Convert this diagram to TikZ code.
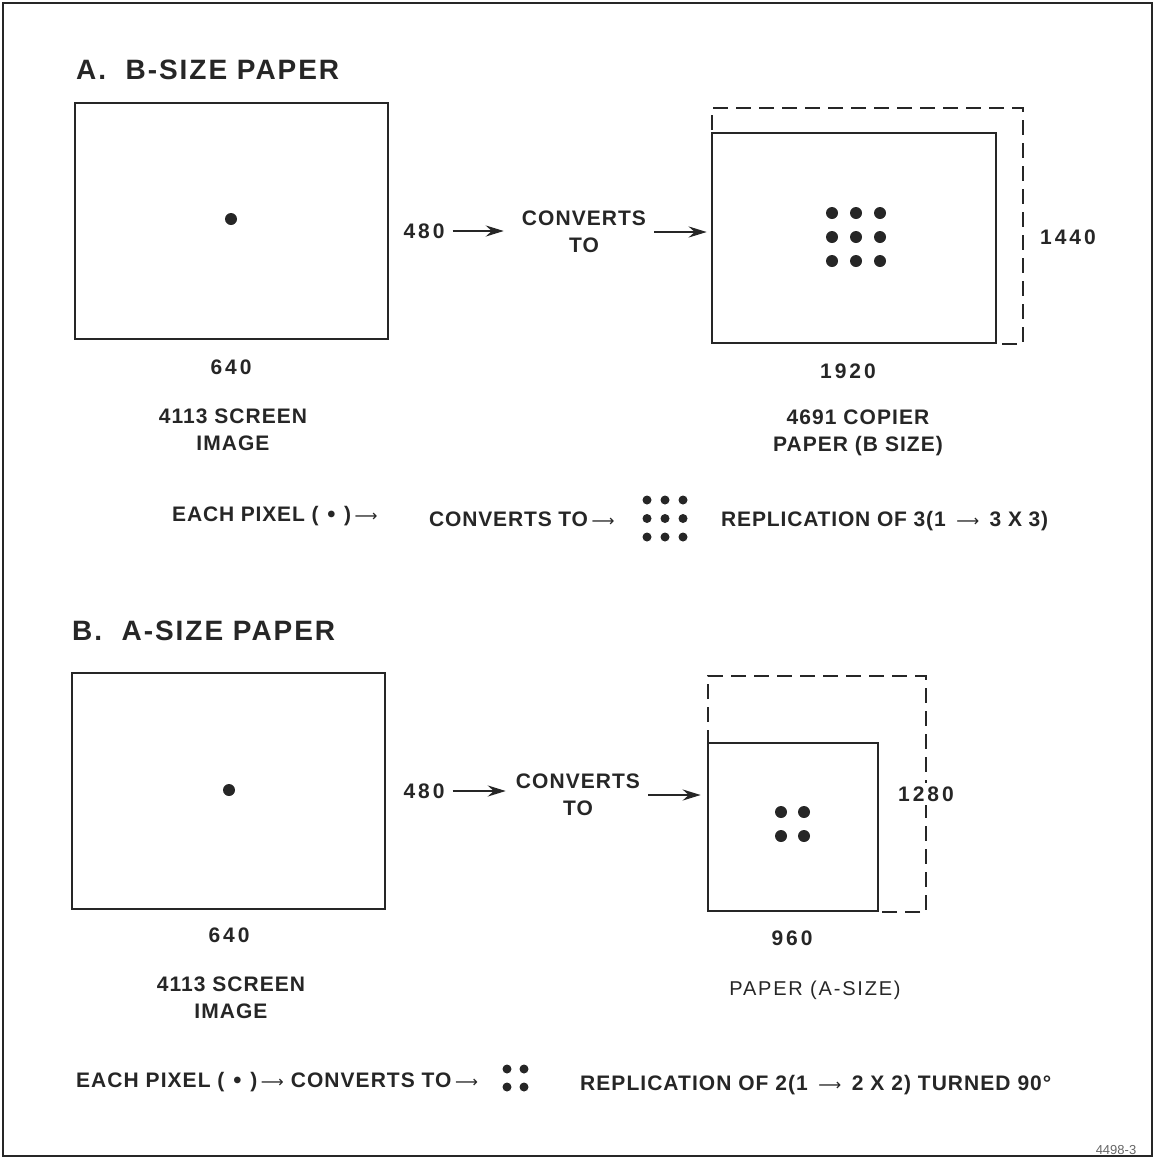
\documentclass[tikz,border=0pt]{standalone}
\usepackage{fontspec}
\setmainfont{Liberation Sans}
\newfontfamily\ttlfont[LetterSpace=7]{Liberation Sans}
\newfontfamily\labfont[LetterSpace=5]{Liberation Sans}
\newfontfamily\numfont[LetterSpace=14]{Liberation Sans}
\newfontfamily\rowfont[LetterSpace=4]{Liberation Sans}
\newfontfamily\rowbfont[LetterSpace=5]{Liberation Sans}
\newfontfamily\thinfont[LetterSpace=9]{Liberation Sans}
\newfontfamily\dvfont{DejaVu Sans}
\newcommand\rarr{{\dvfont\mdseries\fontsize{16}{22}\selectfont ⟶}}
\newcommand\pix{{\dvfont\fontsize{19}{22}\selectfont •}}
\usetikzlibrary{arrows.meta}
\tikzset{
  frame/.style={draw, line width=2pt},
  boxline/.style={draw, line width=2.6pt, inner sep=0pt},
  dline/.style={line width=2pt, dash pattern=on 15pt off 8pt},
  ttl/.style={font=\ttlfont\fontsize{28}{32}\selectfont\bfseries, inner sep=0pt},
  lab/.style={font=\labfont\fontsize{21}{27}\selectfont\bfseries, inner sep=0pt, align=center},
  num/.style={font=\numfont\fontsize{21}{27}\selectfont\bfseries, inner sep=0pt, align=center},
  row/.style={font=\rowfont\fontsize{21}{24}\selectfont\bfseries, inner sep=0pt, anchor=west},
  rowb/.style={font=\rowbfont\fontsize{21}{24}\selectfont\bfseries, inner sep=0pt, anchor=west},
  thin/.style={font=\thinfont\fontsize{20}{27}\selectfont, inner sep=0pt, align=center},
  arr/.style={line width=2.4pt, -{Stealth[length=18pt, width=11pt, inset=6pt]}},
  bigdot/.style={fill=black!85, draw=none, circle, minimum size=12pt, inner sep=0pt},
  smalldot/.style={fill=black!85, draw=none, circle, minimum size=9pt, inner sep=0pt},
}
\begin{document}
\begin{tikzpicture}[x=1pt, y=-1pt, black!85]
\useasboundingbox (0,0) rectangle (1158,1160);
\draw[frame] (3,3) rectangle (1152,1156);

% ---------- A ----------
\node[ttl, anchor=west] (ttlA) at (76,70) {A.\ \ B-SIZE PAPER};
\node[boxline, minimum width=313pt, minimum height=236pt] (scrA) at (231.5,221) {};
\node[bigdot] (dotA) at (231,219) {};
\node[num] (nA480) at (424,231) {480};
\node[lab] (convA) at (584,232) {CONVERTS\\TO};
\draw[dline] (712,130) -- (712,108) -- (1023,108) -- (1023,344) -- (996,344);
\node[boxline, minimum width=284pt, minimum height=210pt] (papA) at (854,238) {};
\foreach \i in {0,1,2} \foreach \j in {0,1,2}
  \node[bigdot] (pA\i\j) at (832+24*\i, 213+24*\j) {};
\draw[arr] ([xshift=8pt]nA480.east) -- ([xshift=-18pt]nA480.east -| convA.west);
\draw[arr] ([xshift=8pt]convA.east) -- ([xshift=-4pt]convA.east -| papA.west);
\node[num] (hA) at (1068,237) {1440};
\node[num] (wA) at (231,367) {640};
\node[lab] (scrlabA) at (233,430) {4113 SCREEN\\IMAGE};
\node[num] (wpA) at (848,371) {1920};
\node[lab] (paplabA) at (858,433) {4691 COPIER\\PAPER (B SIZE)};
\node[row] (eachA) at (172,516) {EACH PIXEL ( \pix\ )\,\rarr};
\node[row] (convtoA) at (429,519) {CONVERTS TO\,\rarr};
\foreach \i in {0,1,2} \foreach \j in {0,1,2}
  \node[smalldot] (rA\i\j) at (647+18*\i, 500+18.5*\j) {};
\node[row] (repA) at (721,521) {REPLICATION OF 3(1\enspace\rarr\enspace3 X 3)};

% ---------- B ----------
\node[ttl, anchor=west] (ttlB) at (72,631) {B.\ \ A-SIZE PAPER};
\node[boxline, minimum width=313pt, minimum height=236pt] (scrB) at (228.5,791) {};
\node[bigdot] (dotB) at (229,790) {};
\node[num] (nB480) at (424,791) {480};
\node[lab] (convB) at (578,795) {CONVERTS\\TO};
\draw[dline] (708,745) -- (708,676) -- (926,676) -- (926,912) -- (878,912);
\node[boxline, minimum width=170pt, minimum height=168pt] (papB) at (793,827) {};
\foreach \i in {0,1} \foreach \j in {0,1}
  \node[bigdot] (pB\i\j) at (781+23*\i, 812+24*\j) {};
\draw[arr] ([xshift=8pt]nB480.east) -- ([xshift=-10pt]nB480.east -| convB.west);
\draw[arr] ([xshift=8pt]convB.east) -- ([xshift=-6pt]convB.east -| papB.west);
\node[num, fill=white, inner xsep=0pt, inner ysep=4pt] (hB) at (926,794) {1280};
\node[num] (wB) at (229,935) {640};
\node[lab] (scrlabB) at (231,998) {4113 SCREEN\\IMAGE};
\node[num] (wpB) at (792,938) {960};
\node[thin] (paplabB) at (815,990) {PAPER (A-SIZE)};
\node[rowb] (eachB) at (76,1082) {EACH PIXEL ( \pix\ )\,\rarr\,\,CONVERTS TO\,\rarr};
\foreach \i in {0,1} \foreach \j in {0,1}
  \node[smalldot] (rB\i\j) at (507+17*\i, 1069+18*\j) {};
\node[rowb] (repB) at (580,1085) {REPLICATION OF 2(1\enspace\rarr\enspace2 X 2) TURNED 90°};

\node[font=\fontsize{13}{15}\selectfont, text=black!60, inner sep=0pt] (fig) at (1116,1150) {4498-3};
\end{tikzpicture}
\end{document}
